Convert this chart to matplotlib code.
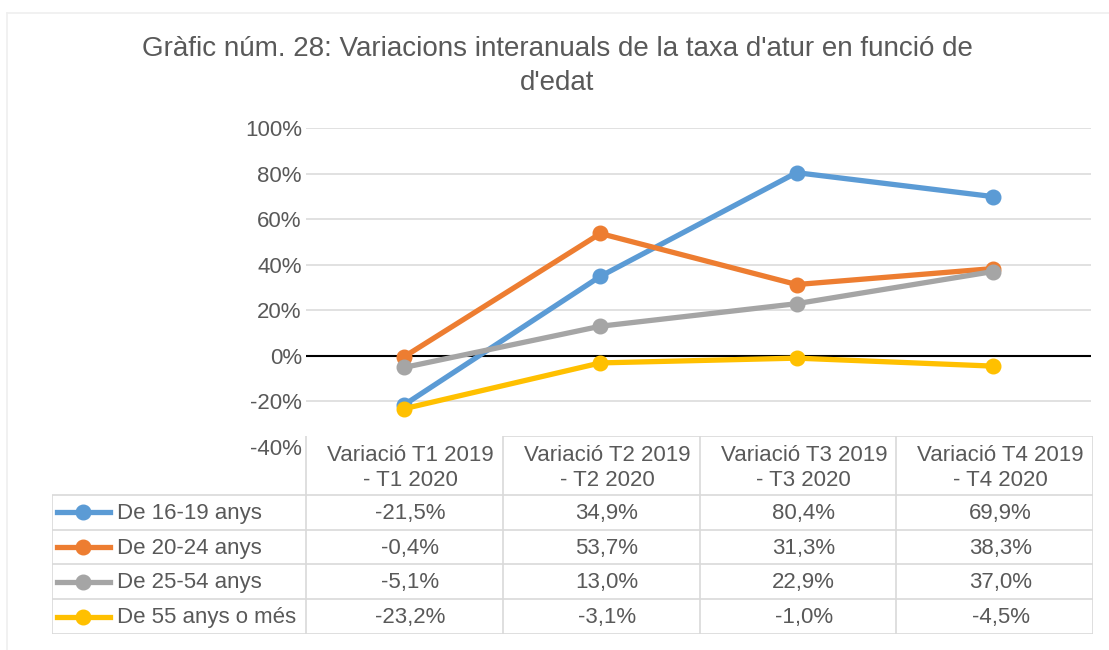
import matplotlib
matplotlib.use("Agg")
import matplotlib.pyplot as plt
from matplotlib.lines import Line2D

plt.rcParams['font.family'] = ['Liberation Sans', 'DejaVu Sans']

# data
categories = ["Variació T1 2019\n- T1 2020", "Variació T2 2019\n- T2 2020",
              "Variació T3 2019\n- T3 2020", "Variació T4 2019\n- T4 2020"]
series_names = ["De 16-19 anys", "De 20-24 anys", "De 25-54 anys", "De 55 anys o més"]
v_16_19 = [-21.5, 34.9, 80.4, 69.9]
v_20_24 = [-0.4, 53.7, 31.3, 38.3]
v_25_54 = [-5.1, 13.0, 22.9, 37.0]
v_55 = [-23.2, -3.1, -1.0, -4.5]
yticks = [-40, -20, 0, 20, 40, 60, 80, 100]

series = [v_16_19, v_20_24, v_25_54, v_55]
colors = ["#5B9BD5", "#ED7D31", "#A5A5A5", "#FFC000"]
txt = "#595959"
grid_c = "#D9D9D9"

W, H = 1109, 650
fig = plt.figure(figsize=(W / 100, H / 100), dpi=100)


def box(x0, y0, x1, y1):
    # pixel box (top-left origin) -> figure fraction rect
    return [x0 / W, 1 - y1 / H, (x1 - x0) / W, (y1 - y0) / H]


# faint chart border
fig.add_artist(Line2D([7 / W, 7 / W], [0, 1 - 13 / H], color="#EFEFEF", lw=1.2))
fig.add_artist(Line2D([7 / W, 1], [1 - 13 / H, 1 - 13 / H], color="#EFEFEF", lw=1.2))

fig.text(557 / W, 1 - 49 / H, "Gràfic núm. 28: Variacions interanuals de la taxa d'atur en funció de",
         ha="center", va="center", fontsize=20, color=txt)
fig.text(557 / W, 1 - 83 / H, "d'edat", ha="center", va="center", fontsize=20, color=txt)

# line chart
ax = fig.add_axes(box(306, 128, 1091, 447))
x = list(range(len(categories)))
for vals, c in zip(series, colors):
    ax.plot(x, [v / 100 for v in vals], color=c, lw=3.8, marker="o", ms=10.5,
            solid_capstyle="round", zorder=3)
ax.set_xlim(-0.5, 3.5)
ax.set_ylim(-0.4, 1.0)
ax.set_yticks([t / 100 for t in yticks])
ax.set_yticklabels([f"{t}%" for t in yticks], fontsize=16, color=txt)
ax.tick_params(axis="y", length=0, pad=3)
ax.set_xticks([])
for s in ax.spines.values():
    s.set_visible(False)
for t in yticks:
    if t == 0:
        ax.axhline(0, color="black", lw=1.5, zorder=2)
    elif t > -40:
        ax.axhline(t / 100, color=grid_c, lw=1.1, zorder=1)

# data table below the chart
cw = (1093 - 306) / 4
lab_w = (306 - 52) / cw
tb = fig.add_axes(box(52, 436, 1093, 634))
tb.set_xlim(-0.5 - lab_w, 3.5)
tb.set_ylim(634, 436)
tb.axis("off")
hdr_b = 495
rh = (634 - hdr_b) / len(series_names)
lk = dict(color=grid_c, lw=1.2, solid_capstyle="butt")

for i, cat in enumerate(categories):
    tb.text(i + 0.03, (436 + hdr_b) / 2 + 3, cat, ha="center", va="center", fontsize=16,
            color=txt, linespacing=1.25)
# header top border (not above first column)
tb.plot([0.5, 3.5], [436, 436], **lk)
for i in range(5):
    tb.plot([i - 0.5, i - 0.5], [436, 634], **lk)
tb.plot([-0.5 - lab_w, -0.5 - lab_w], [hdr_b, 634], **lk)
for r in range(len(series_names) + 1):
    yy = hdr_b + r * rh
    tb.plot([-0.5 - lab_w, 3.5], [yy, yy], **lk)

px = 1 / cw
for r, (name, vals, c) in enumerate(zip(series_names, series, colors)):
    yc = hdr_b + (r + 0.5) * rh
    x0 = -0.5 - lab_w
    tb.plot([x0 + 5 * px, x0 + 58 * px], [yc, yc], color=c, lw=3.8)
    tb.plot([x0 + 31 * px], [yc], marker="o", ms=10.5, color=c)
    tb.text(x0 + 65 * px, yc + 1, name, ha="left", va="center", fontsize=16, color=txt)
    for i, v in enumerate(vals):
        tb.text(i + 0.03, yc + 1, f"{v:.1f}%".replace(".", ","), ha="center", va="center",
                fontsize=16, color=txt)

fig.savefig("out.png", dpi=100, facecolor="white")
